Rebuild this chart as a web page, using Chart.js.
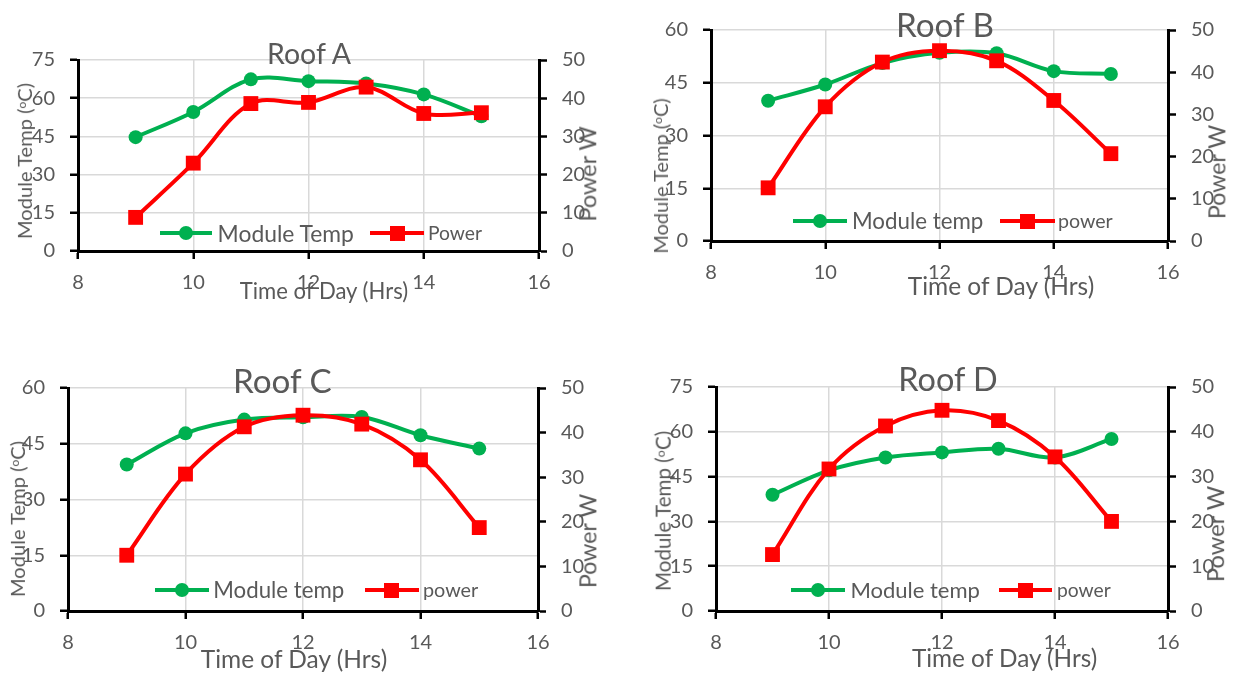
<!DOCTYPE html>
<html><head><meta charset="utf-8">
<script src="https://cdn.jsdelivr.net/npm/chart.js@4.4.1/dist/chart.umd.min.js"></script>
<style>
html,body{margin:0;padding:0;background:#fff;width:1234px;height:673px;overflow:hidden;}
.box{position:absolute;}
.t{position:absolute;white-space:nowrap;color:#595959;line-height:1;font-family:Lato,"Liberation Sans",sans-serif;}
.t sup{font-size:0.6em;vertical-align:0.5em;line-height:0;}
.ln{position:absolute;height:4px;}
.mk{position:absolute;}
</style></head><body>
<script>
// ---- data ----
const hours = [9, 10, 11, 12, 13, 14, 15];
const xTickValues = [8, 10, 12, 14, 16];
const tempA  = [44.7, 54.6, 67.4, 66.7, 65.8, 61.5, 52.9];
const powerA = [8.8, 23.0, 38.6, 38.9, 42.9, 36.0, 36.2];
const tempB  = [39.9, 44.5, 50.6, 53.5, 53.4, 48.3, 47.5];
const powerB = [12.6, 31.8, 42.4, 45.1, 42.7, 33.3, 20.7];
const tempC  = [39.4, 47.8, 51.5, 52.1, 52.2, 47.3, 43.7];
const powerC = [12.5, 30.7, 41.3, 43.9, 41.9, 33.9, 18.7];
const tempD  = [38.9, 47.1, 51.4, 53.1, 54.3, 51.4, 57.6];
const powerD = [12.6, 31.7, 41.3, 44.8, 42.5, 34.4, 20.0];
const titles = ["Roof A", "Roof B", "Roof C", "Roof D"];
const tempLabels = ["Module Temp", "Module temp", "Module temp", "Module temp"];
const powerLabels = ["Power", "power", "power", "power"];
const tempMax = [75, 60, 60, 75];
const tempStep = 15;
const powerMax = 50;
const powerStep = 10;
const xTitle = "Time of Day (Hrs)";
const yTitle = "Module Temp (<sup>o</sup>C)";
const y2Title = "Power W";

const GREEN = '#00B050', RED = '#FF0000', TXT = '#595959', GRID = '#D9D9D9';
const TICKFONT = {family: 'Lato', size: 20};

// ---- layout (positions only) ----
const panels = [
  {temp: tempA, power: powerA, plot: [78, 60, 539, 251],
   title: [309, 53, 84], xt: [324, 290.5, 168], yt: [24, 161, 156], y2t: [588, 174, 95],
   leg: {y: 233, g: [159.5, 212, 186], gt: [217.6, 136], r: [370, 423.5, 397], rt: [428, 54]}},
  {temp: tempB, power: powerB, plot: [711, 30, 1168, 241],
   title: [945, 25, 98], xt: [1001, 285.5, 186], yt: [660, 176, 155], y2t: [1217, 172, 94],
   leg: {y: 221, g: [793, 847, 820], gt: [852, 131.7], r: [1000, 1054.7, 1027], rt: [1058, 55]}},
  {temp: tempC, power: powerC, plot: [68, 388, 538, 611],
   title: [282.4, 381, 98], xt: [294, 659, 186], yt: [17, 519, 156], y2t: [588, 541, 94],
   leg: {y: 590, g: [155, 208.7, 182], gt: [213.3, 131.3], r: [365, 418.5, 391.3], rt: [423, 55.5]}},
  {temp: tempD, power: powerD, plot: [716, 387, 1168, 611],
   title: [948, 378.5, 99], xt: [1004.6, 658, 185], yt: [663, 511, 160], y2t: [1216, 534, 96],
   leg: {y: 590, g: [791, 845, 818], gt: [850.4, 130], r: [998.6, 1052, 1025], rt: [1057, 54]}}
];

function addText(html, cx, cy, w, rot, leftAlign) {
  const el = document.createElement('div');
  el.className = 't';
  el.innerHTML = html;
  el.style.fontSize = '20px';
  document.body.appendChild(el);
  const mw = el.offsetWidth;
  el.style.fontSize = (20 * w / mw) + 'px';
  el.style.left = cx + 'px';
  el.style.top = cy + 'px';
  el.style.transform = (leftAlign ? 'translate(0,-50%)' : 'translate(-50%,-50%)') + (rot ? ' rotate(-90deg)' : '');
  return el;
}
function addLine(x1, x2, y, color) {
  const d = document.createElement('div');
  d.className = 'ln';
  d.style.left = x1 + 'px'; d.style.top = (y - 2) + 'px';
  d.style.width = (x2 - x1) + 'px'; d.style.background = color;
  document.body.appendChild(d);
}
function addMarker(x, y, color, round) {
  const d = document.createElement('div');
  d.className = 'mk';
  const s = round ? 14 : 15;
  d.style.left = (x - s / 2) + 'px'; d.style.top = (y - s / 2) + 'px';
  d.style.width = s + 'px'; d.style.height = s + 'px';
  d.style.background = color;
  if (round) d.style.borderRadius = '50%';
  document.body.appendChild(d);
}

const padL = 60, padR = 60, padT = 32, padB = 50;

panels.forEach((p, k) => {
  const [x0, y0, x1, y1] = p.plot;
  const W = x1 - x0 + padL + padR, H = y1 - y0 + padT + padB;
  const div = document.createElement('div');
  div.className = 'box';
  div.style.left = (x0 - padL) + 'px'; div.style.top = (y0 - padT) + 'px';
  div.style.width = W + 'px'; div.style.height = H + 'px';
  const c = document.createElement('canvas');
  c.width = W; c.height = H;
  div.appendChild(c);
  document.body.appendChild(div);

  new Chart(c, {
    type: 'line',
    data: {
      datasets: [
        {label: tempLabels[k], data: hours.map((h, i) => ({x: h, y: p.temp[i]})), yAxisID: 'y',
         borderColor: GREEN, backgroundColor: GREEN, borderWidth: 4, pointRadius: 7, pointStyle: 'circle',
         pointBorderWidth: 0, tension: 0.35, order: 2},
        {label: powerLabels[k], data: hours.map((h, i) => ({x: h, y: p.power[i]})), yAxisID: 'y2',
         borderColor: RED, backgroundColor: RED, borderWidth: 4, pointRadius: 10.5, pointStyle: 'rect',
         pointBorderWidth: 0, tension: 0.35, order: 1}
      ]
    },
    options: {
      responsive: false, animation: false, devicePixelRatio: 1,
      layout: {padding: {top: padT, left: 0, right: 0, bottom: 0}},
      plugins: {legend: {display: false}, tooltip: {enabled: false}, title: {display: false}},
      scales: {
        x: {type: 'linear', min: 8, max: 16,
            afterBuildTicks: s => { s.ticks = xTickValues.map(v => ({value: v})); },
            ticks: {font: TICKFONT, color: TXT, padding: 12, maxRotation: 0},
            grid: {color: GRID, lineWidth: 1.5, tickColor: '#000', tickLength: 8, tickWidth: 2.5},
            border: {color: '#000', width: 3},
            afterFit: s => { s.height = padB; s.paddingLeft = 0; s.paddingRight = 0; }},
        y: {position: 'left', min: 0, max: tempMax[k],
            ticks: {stepSize: tempStep, font: TICKFONT, color: TXT, padding: 15},
            grid: {color: GRID, lineWidth: 1.5, tickColor: '#000', tickLength: 8, tickWidth: 2.5},
            border: {color: '#000', width: 3},
            afterFit: s => { s.width = padL; s.paddingTop = 0; s.paddingBottom = 0; }},
        y2: {position: 'right', min: 0, max: powerMax,
            ticks: {stepSize: powerStep, font: TICKFONT, color: TXT, padding: 15},
            grid: {drawOnChartArea: false, tickColor: '#000', tickLength: 8, tickWidth: 2.5},
            border: {color: '#000', width: 3},
            afterFit: s => { s.width = padR; s.paddingTop = 0; s.paddingBottom = 0; }}
      }
    }
  });

  // titles
  addText(titles[k], p.title[0], p.title[1], p.title[2], false, false);
  addText(xTitle, p.xt[0], p.xt[1], p.xt[2], false, false);
  addText(yTitle, p.yt[0], p.yt[1], p.yt[2], true, false);
  addText(y2Title, p.y2t[0], p.y2t[1], p.y2t[2], true, false);
  // legend
  const L = p.leg;
  addLine(L.g[0], L.g[1], L.y, GREEN); addMarker(L.g[2], L.y, GREEN, true);
  addText(tempLabels[k], L.gt[0], L.y, L.gt[1], false, true);
  addLine(L.r[0], L.r[1], L.y, RED); addMarker(L.r[2], L.y, RED, false);
  addText(powerLabels[k], L.rt[0], L.y, L.rt[1], false, true);
});
</script>
</body></html>
